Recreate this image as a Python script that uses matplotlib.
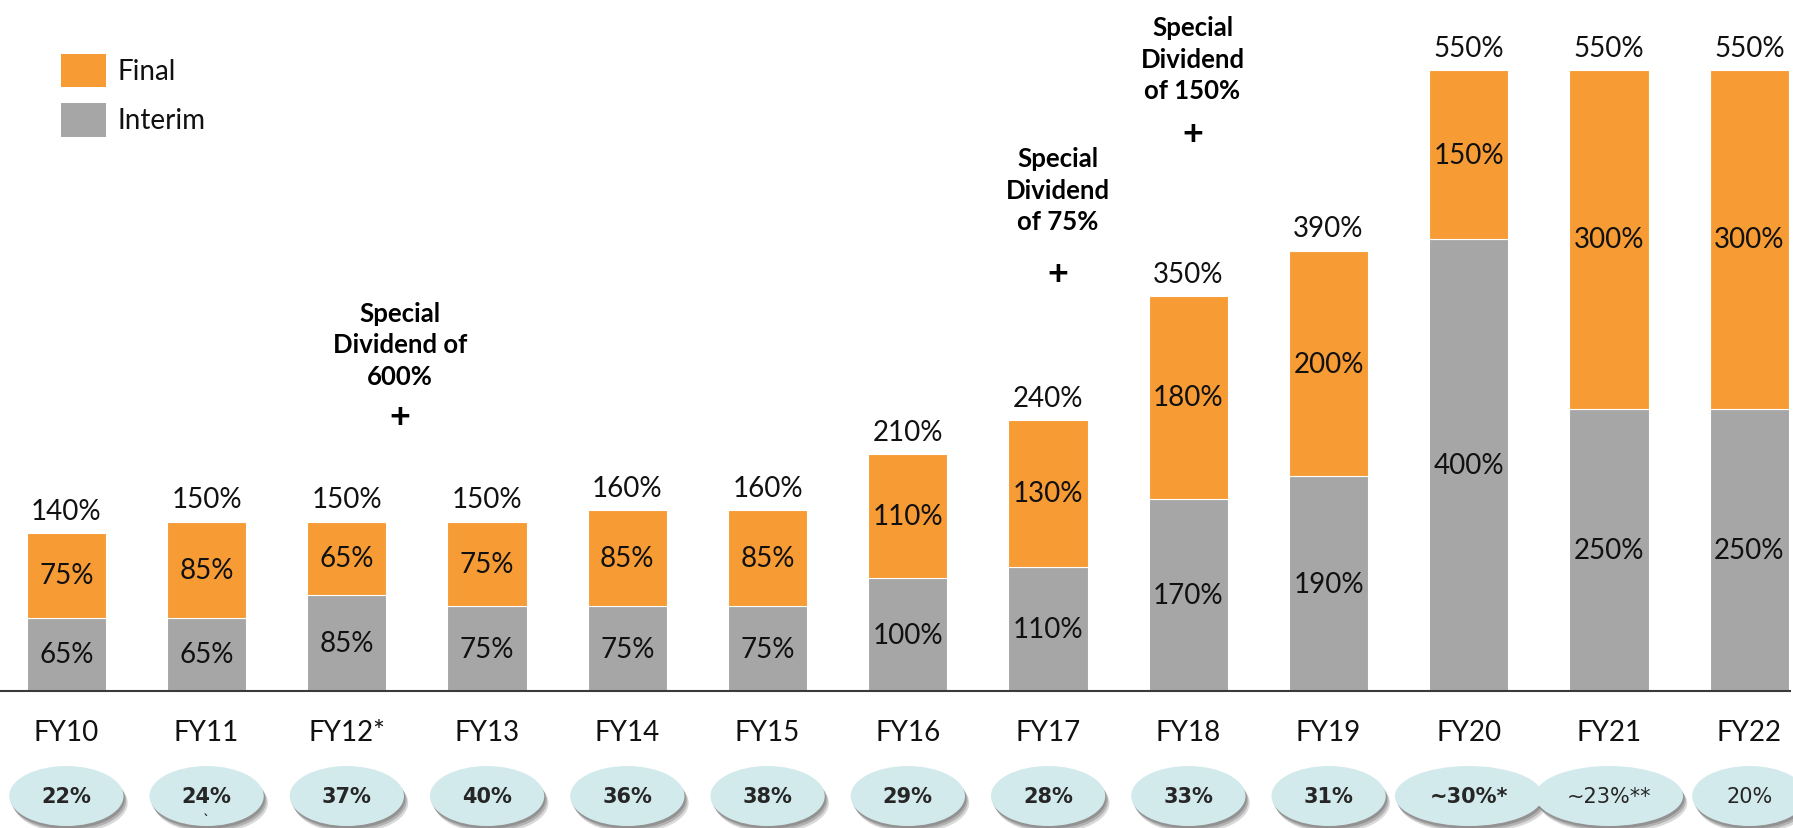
import matplotlib
matplotlib.use("Agg")
import matplotlib.pyplot as plt
from matplotlib.patches import Rectangle, Ellipse
import matplotlib.transforms as mtrans
import numpy as np

# ---------------- data ----------------
years = ["FY10", "FY11", "FY12*", "FY13", "FY14", "FY15", "FY16",
         "FY17", "FY18", "FY19", "FY20", "FY21", "FY22"]
interim = [65, 65, 85, 75, 75, 75, 100, 110, 170, 190, 400, 250, 250]
final = [75, 85, 65, 75, 85, 85, 110, 130, 180, 200, 150, 300, 300]
payout = ["22%", "24%", "37%", "40%", "36%", "38%", "29%", "28%", "33%",
          "31%", "~30%*", "~23%**", "20%"]
payout_bold = [True] * 11 + [False, False]
payout_wide = [False] * 10 + [True, True, False]

special_text = ["Special\nDividend of\n600%", "Special\nDividend\nof 75%",
                "Special\nDividend\nof 150%"]
special_x = [2.38, 7.07, 8.03]
special_y = [307, 444, 560]
plus_y = [243, 370, 494]

ORANGE = "#F79B34"
GRAY = "#A6A6A6"
FONT = ["Lato", "DejaVu Sans"]
plt.rcParams["font.family"] = FONT

W, H = 1793, 829
fig = plt.figure(figsize=(W / 100, H / 100), dpi=100)
base_px = 692
ax = fig.add_axes([0, (H - base_px) / H, 1790 / W, base_px / H])
unit = 1.1293  # px per percentage point
ax.set_ylim(0, base_px / unit)
ax.set_xlim(-0.473, 12.29)

x = np.arange(len(years))
totals = [i + f for i, f in zip(interim, final)]
bw = 0.565
b1 = ax.bar(x, interim, bw, color=GRAY, edgecolor="white", linewidth=0.8)
b2 = ax.bar(x, final, bw, bottom=interim, color=ORANGE, edgecolor="white", linewidth=0.8)

for xi, iv, fv, tv in zip(x, interim, final, totals):
    ax.text(xi, iv / 2, f"{iv}%", ha="center", va="center", fontsize=20, color="#111111")
    ax.text(xi, iv + fv / 2, f"{fv}%", ha="center", va="center", fontsize=20, color="#111111")
    ax.annotate(f"{tv}%", (xi, tv), xytext=(0, 16), textcoords="offset points",
                ha="center", va="center", fontsize=20, color="#111111")

for t, sx, sy, py in zip(special_text, special_x, special_y, plus_y):
    ax.text(sx, sy, t, ha="center", va="center", fontsize=18.5, fontweight="bold",
            linespacing=1.38, color="#000000")
    ax.text(sx, py, "+", ha="center", va="center", fontsize=26, fontweight="bold",
            color="#000000")

# axes styling
for s in ["top", "right", "left"]:
    ax.spines[s].set_visible(False)
ax.spines["bottom"].set_color("#3a3a3a")
ax.spines["bottom"].set_linewidth(1.5)
ax.set_yticks([])
ax.set_xticks(x)
ax.set_xticklabels(years, fontsize=20, color="#111111")
ax.tick_params(axis="x", length=0, pad=20)

# payout ellipses below axis
trans = mtrans.blended_transform_factory(ax.transData, ax.transAxes)
ecy = (base_px - 797) / base_px
eh = 60 / base_px
for xi, lab, bold, wide in zip(x, payout, payout_bold, payout_wide):
    ew = 1.055 if wide else 0.815
    for k, (dx, dy, a) in enumerate([(0.03, -0.010, 0.25), (0.02, -0.007, 0.35), (0.01, -0.004, 0.45)]):
        sh = Ellipse((xi + dx, ecy + dy), ew, eh, transform=trans, clip_on=False,
                     facecolor="#6b6b6b", edgecolor="none", alpha=a, zorder=1)
        ax.add_artist(sh)
    e = Ellipse((xi, ecy), ew, eh, transform=trans, clip_on=False,
                facecolor="#D3EAEC", edgecolor="none", zorder=2)
    ax.add_artist(e)
    ax.text(xi, ecy, lab, transform=trans, ha="center", va="center",
            fontsize=15, fontweight="bold" if bold else "normal",
            family=["Liberation Sans Narrow", "DejaVu Sans"], color="#262626", zorder=3,
            clip_on=False)
ax.text(1, ecy - 0.035, "`", transform=trans, ha="center", va="center", fontsize=12,
        color="#262626", clip_on=False, zorder=3)

# legend
def fx(px):
    return px / W

def fy(py):
    return (H - py) / H

for (y0, y1, c, lab) in [(55, 88, ORANGE, "Final"), (104, 138, GRAY, "Interim")]:
    fig.add_artist(Rectangle((fx(61), fy(y1)), fx(106) - fx(61), fy(y0) - fy(y1),
                             transform=fig.transFigure, facecolor=c, edgecolor="none"))
    fig.text(fx(117), fy((y0 + y1) / 2), lab, ha="left", va="center", fontsize=20,
             color="#111111")

fig.savefig("out.png", dpi=100)
